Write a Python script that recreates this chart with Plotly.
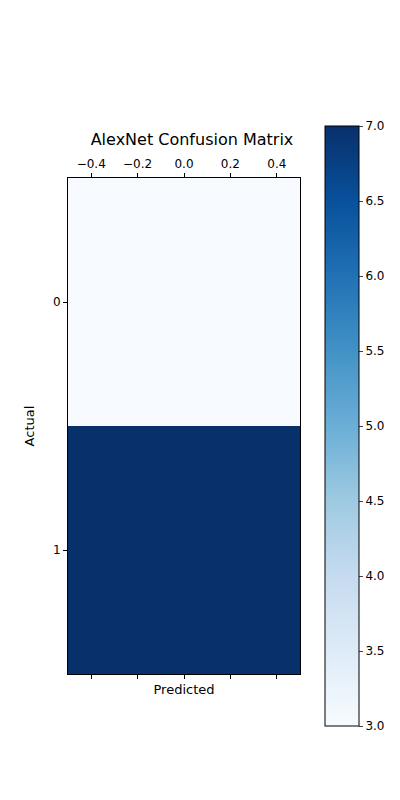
import plotly.graph_objects as go

actual = [0, 1]
predicted = [0]
counts = [[3], [7]]
x_ticks = [-0.4, -0.2, 0.0, 0.2, 0.4]
x_labels = ["\u22120.4", "\u22120.2", "0.0", "0.2", "0.4"]
cb_ticks = [3.0, 3.5, 4.0, 4.5, 5.0, 5.5, 6.0, 6.5, 7.0]

blues = [
    [0.0, "rgb(247,251,255)"], [0.125, "rgb(222,235,247)"],
    [0.25, "rgb(198,219,239)"], [0.375, "rgb(158,202,225)"],
    [0.5, "rgb(107,174,214)"], [0.625, "rgb(66,146,198)"],
    [0.75, "rgb(33,113,181)"], [0.875, "rgb(8,81,156)"],
    [1.0, "rgb(8,48,107)"],
]

fig = go.Figure(go.Heatmap(
    z=counts, x=predicted, y=actual, colorscale=blues, zmin=3, zmax=7,
    colorbar=dict(x=1.065, xanchor="left", thickness=34, len=1.25,
                  y=0.5, yanchor="middle", outlinecolor="black", outlinewidth=1,
                  tickvals=cb_ticks, ticks="outside", ticklen=4,
                  tickformat=".1f", tickfont=dict(size=12, color="black")),
))
# invisible trace so the bottom axis gets drawn
fig.add_trace(go.Scatter(x=[0], y=[0], xaxis="x2", mode="markers",
                         marker=dict(opacity=0), showlegend=False, hoverinfo="skip"))

axis_common = dict(showgrid=False, zeroline=False, linecolor="black", linewidth=1,
                   ticks="outside", ticklen=4, tickcolor="black",
                   tickfont=dict(size=12, color="black"))
fig.update_layout(
    width=400, height=800, plot_bgcolor="white", paper_bgcolor="white",
    margin=dict(l=60, r=92, t=170, b=134),
    font=dict(family="DejaVu Sans", color="black"),
    title=dict(text="AlexNet Confusion Matrix", x=(60 + 308) / 2 / 400, xanchor="center",
               y=1 - 131 / 800, yref="container", yanchor="middle", font=dict(size=16)),
    xaxis=dict(axis_common, side="top", range=[-0.5, 0.5], tickvals=x_ticks,
               ticktext=x_labels, mirror=True),
    xaxis2=dict(axis_common, overlaying="x", side="bottom", range=[-0.5, 0.5],
                tickvals=x_ticks, ticktext=[""] * 5, anchor="y",
                title=dict(text="Predicted", font=dict(size=13), standoff=4)),
    yaxis=dict(axis_common, range=[1.5, -0.5], tickvals=actual, ticktext=["0", "1"],
               mirror=True, title=dict(text="Actual", font=dict(size=13))),
    showlegend=False,
)
fig.write_html("out.html")
